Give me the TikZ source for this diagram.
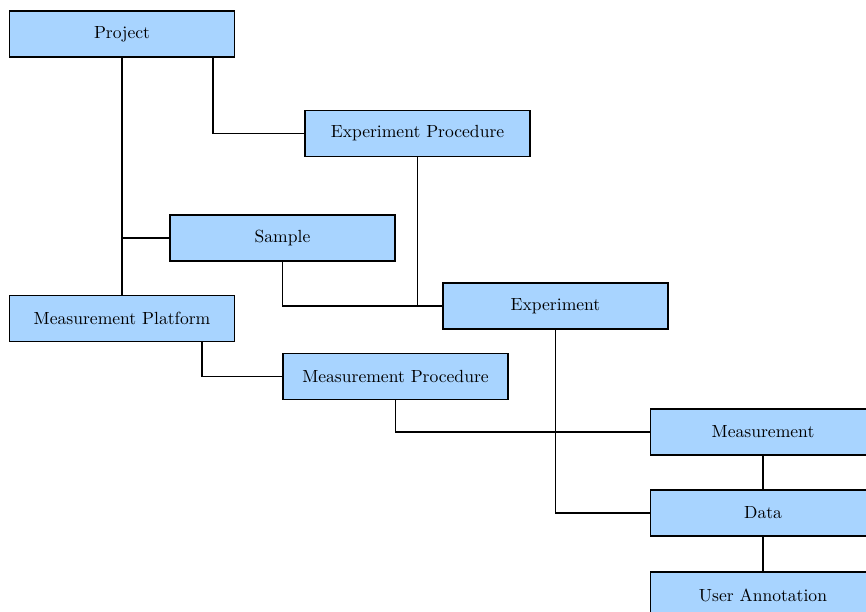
\documentclass[tikz,border=0pt]{standalone}
\usepackage{tikz}
\definecolor{boxblue}{HTML}{A8D4FF}

\begin{document}
\begin{tikzpicture}[x=0.02cm,y=-0.02cm]
                \tikzstyle{entity}=[draw=black,fill=boxblue,line width=0.7pt,minimum width=4.5cm,minimum height=0.92cm,inner sep=0pt]
                \tikzstyle{link}=[black,line width=0.6pt]
                \useasboundingbox (0,0) rectangle (866,612);
                \node [entity] (project) at (122,34) {Project};
                \node [entity] (expproc) at (417.5,133.5) {Experiment Procedure};
                \node [entity] (sample) at (282.5,238) {Sample};
                \node [entity] (platform) at (122,318.5) {Measurement Platform};
                \node [entity] (experiment) at (555.5,306) {Experiment};
                \node [entity] (measproc) at (395.5,376.5) {Measurement Procedure};
                \node [entity] (measurement) at (763,432) {Measurement};
                \node [entity] (data) at (763,513) {Data};
                \node [entity] (annotation) at (763,595) {User Annotation};
                \draw [link] (project.south) -- (platform.north);
                \draw [link] (sample.west) -- (sample.west -| project.south);
                \draw [link] ([xshift=1.82cm]project.south) |- (expproc.west);
                \draw [link] (expproc.south) |- (experiment.west);
                \draw [link] (sample.south) |- (experiment.west);
                \draw [link] ([xshift=1.6cm]platform.south) |- (measproc.west);
                \draw [link] (measproc.south) |- (measurement.west);
                \draw [link] (experiment.south) |- (data.west);
                \draw [link] (measurement.south) -- (data.north);
                \draw [link] (data.south) -- (annotation.north);
            \end{tikzpicture}
\end{document}
